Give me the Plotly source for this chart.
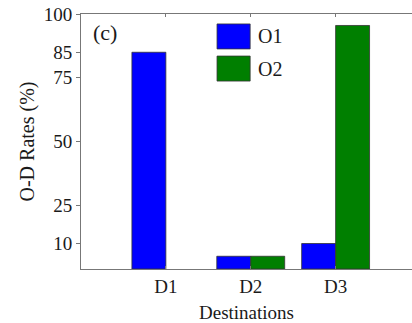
import plotly.graph_objects as go

categories = ["D1", "D2", "D3"]
o1_values = [85, 5, 10]
o2_values = [None, 5, 95.5]
y_ticks = [10, 25, 50, 75, 85, 100]
series_names = ["O1", "O2"]
series_colors = ["#0000FF", "#007F00"]

FONT = "Liberation Serif"
TXT = "#1a1a1a"

fig = go.Figure()
for name, vals, col in zip(series_names, [o1_values, o2_values], series_colors):
    fig.add_trace(go.Bar(
        x=categories, y=vals, name=name,
        marker=dict(color=col, line=dict(color="#333333", width=0.8)),
        showlegend=False,
    ))

fig.update_layout(
    width=412, height=323,
    margin=dict(l=81, r=0, t=14, b=54),
    paper_bgcolor="white", plot_bgcolor="white",
    barmode="group", bargap=0.2, bargroupgap=0,
    font=dict(family=FONT, size=19, color=TXT),
)
fig.update_xaxes(
    type="category", range=[-1, 2.9],
    showline=True, linecolor="#777", linewidth=1, mirror="ticks",
    ticks="inside", ticklen=3, tickcolor="#777",
    showgrid=False, zeroline=False,
    tickfont=dict(family=FONT, size=19, color=TXT),
    title=dict(text="Destinations", font=dict(family=FONT, size=19, color=TXT), standoff=14),
)
fig.update_yaxes(
    range=[0, 100], tickvals=y_ticks, ticktext=[str(v) for v in y_ticks],
    showline=True, linecolor="#777", linewidth=1,
    ticks="outside", ticklen=4, tickcolor="#777",
    showgrid=False, zeroline=False,
    tickfont=dict(family=FONT, size=19, color=TXT),
    title=dict(text="O-D Rates (%)", font=dict(family=FONT, size=20, color=TXT), standoff=3),
)

# panel label
fig.add_annotation(text="(c)", xref="paper", yref="paper", x=0.03, y=0.929,
                   xanchor="left", yanchor="middle", showarrow=False,
                   font=dict(family=FONT, size=22, color=TXT))

# manual legend
leg_boxes = [(0.961, 0.863), (0.835, 0.737)]
for (y1, y0), name, col in zip(leg_boxes, series_names, series_colors):
    fig.add_shape(type="rect", xref="paper", yref="paper", x0=0.411, x1=0.511, y0=y0, y1=y1,
                  fillcolor=col, line=dict(color="#333333", width=0.8))
    fig.add_annotation(text=name, xref="paper", yref="paper", x=0.53, y=(y0 + y1) / 2,
                       xanchor="left", yanchor="middle", showarrow=False,
                       font=dict(family=FONT, size=20, color=TXT))

fig.write_html("out.html")
